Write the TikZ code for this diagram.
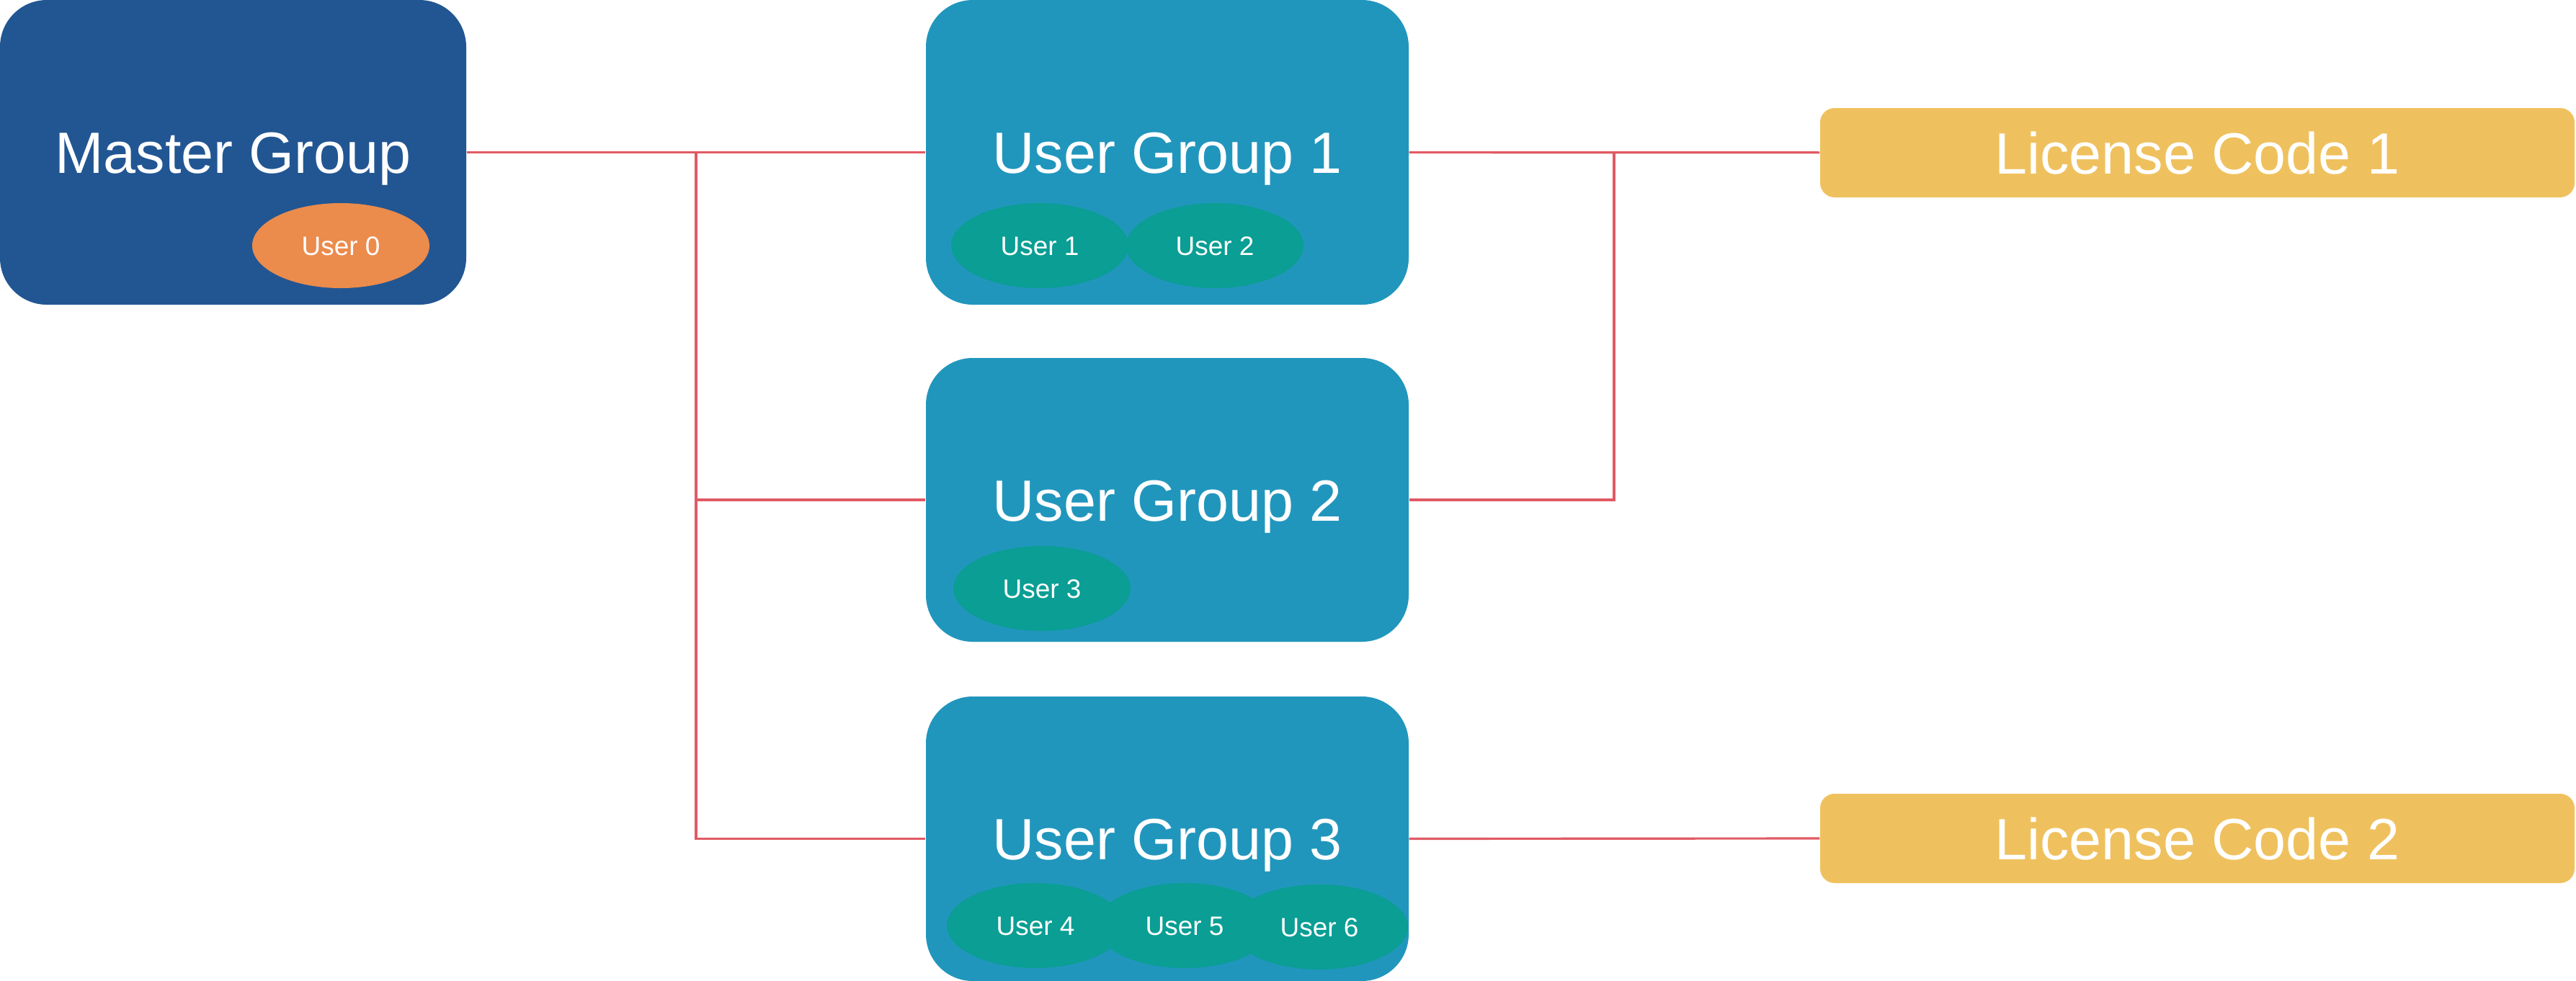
\documentclass[tikz,border=0pt]{standalone}
\usepackage{fontspec}
\setmainfont{Liberation Sans}
\usepackage{tikz}
\usepackage{xcolor}
\usetikzlibrary{positioning,shapes.geometric}
\definecolor{masterblue}{RGB}{34,86,147}
\definecolor{groupblue}{RGB}{33,150,189}
\definecolor{userteal}{RGB}{10,158,148}
\definecolor{userorange}{RGB}{235,139,76}
\definecolor{licyellow}{RGB}{239,193,94}
\definecolor{wirered}{RGB}{224,90,100}

\begin{document}
\begin{tikzpicture}[
    grp/.style={rectangle,rounded corners=0.65cm,fill=groupblue,text=white,
      minimum width=6.70cm,font=\fontsize{23}{26}\selectfont,
      text height=0.58cm,text depth=0pt,inner sep=0pt},
    usr/.style={ellipse,fill=userteal,text=white,minimum width=2.46cm,
      minimum height=1.18cm,font=\fontsize{10.5}{12}\selectfont,
      text height=0.27cm,text depth=0pt,inner sep=0pt},
    lic/.style={rectangle,rounded corners=0.2cm,fill=licyellow,text=white,
      minimum width=10.47cm,minimum height=1.24cm,font=\fontsize{23}{26}\selectfont,
      text height=0.58cm,text depth=0pt,inner sep=0pt},
    wire/.style={draw=wirered,line width=0.9pt}]
    \useasboundingbox (0,0) rectangle (35.75,-13.62);
    % groups
    \node[grp,fill=masterblue,minimum width=6.47cm,minimum height=4.23cm]
       (master) at (3.235,-2.115) {Master Group};
    \node[grp,minimum height=4.23cm] (ug1) at (16.20,-2.115) {User Group 1};
    \node[grp,minimum height=3.94cm] (ug2) at (16.20,-6.94) {User Group 2};
    \node[grp,minimum height=3.95cm] (ug3) at (16.20,-11.645) {User Group 3};
    % users
    \node[usr,fill=userorange] (u0) at (4.73,-3.41) {User 0};
    \node[usr] (u1) at (14.43,-3.41) {User 1};
    \node[usr] (u2) at (16.86,-3.41) {User 2};
    \node[usr] (u3) at (14.46,-8.17) {User 3};
    \node[usr] (u4) at (14.37,-12.85) {User 4};
    \node[usr] (u5) at (16.44,-12.85) {User 5};
    \node[usr] (u6) at (18.31,-12.87) {User 6};
    % licenses
    \node[lic] (lic1) at (30.495,-2.12) {License Code 1};
    \node[lic] (lic2) at (30.495,-11.64) {License Code 2};
    % wires
    \coordinate (jl) at (9.66,-2.115);
    \coordinate (jr) at (22.40,-2.115);
    \draw[wire] (master) -- (ug1);
    \draw[wire] (jl) |- (ug2.west);
    \draw[wire] (jl) |- (ug3.west);
    \draw[wire] (ug1) -- (lic1);
    \draw[wire] (jr) |- (ug2.east);
    \draw[wire] (ug3.east) -- (lic2.west);
  \end{tikzpicture}
\end{document}
